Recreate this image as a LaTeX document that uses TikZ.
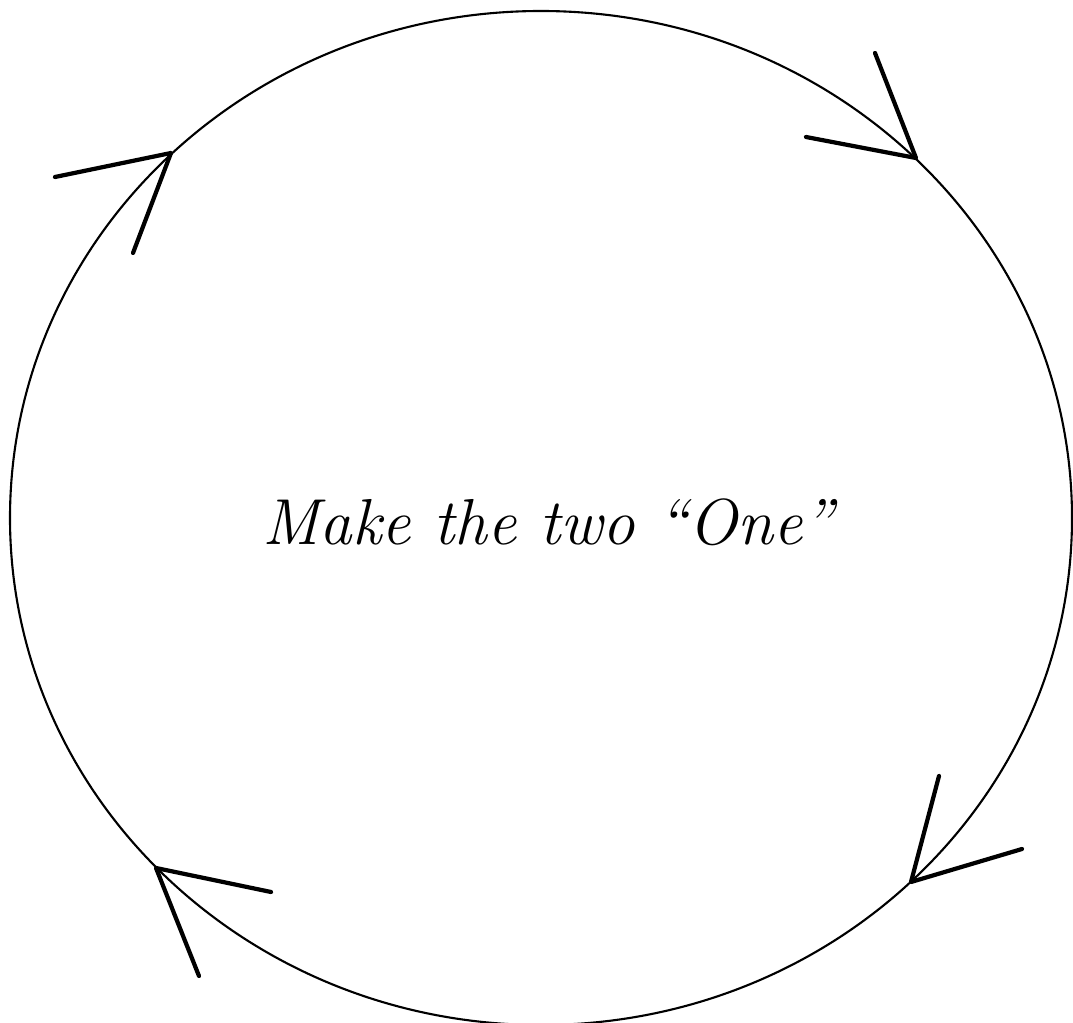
\documentclass[tikz,border=0pt]{standalone}
\usepackage{tikz}
\usetikzlibrary{calc}

\begin{document}
\begin{tikzpicture}[x=0.02cm, y=-0.02cm,
  every node/.style={font=\fontsize{37}{40}\selectfont\itshape},
  rim/.style={draw, line width=1.2pt},
  ar/.style={draw, line width=2.4pt, line cap=round, line join=round}]
  \useasboundingbox (0,0) rectangle (1073,1023);
  \path[rim] (541,518) ellipse [x radius=531, y radius=507];
  \node (t) at (548,522) {Make the two ``One''};
  % arrow tips on the rim, clockwise
  \coordinate (ul) at (171,153);
  \coordinate (ur) at (916,158);
  \coordinate (lr) at (911,882);
  \coordinate (ll) at (156,868);
  \draw[ar] ($(ul)+(-116,24)$) -- (ul) -- ++(-38,100);
  \draw[ar] ($(ur)+(-110,-21)$) -- (ur) -- ++(-41,-105);
  \draw[ar] ($(lr)+(28,-106)$) -- (lr) -- ++(111,-33);
  \draw[ar] ($(ll)+(115,24)$) -- (ll) -- ++(43,108);
\end{tikzpicture}
\end{document}
